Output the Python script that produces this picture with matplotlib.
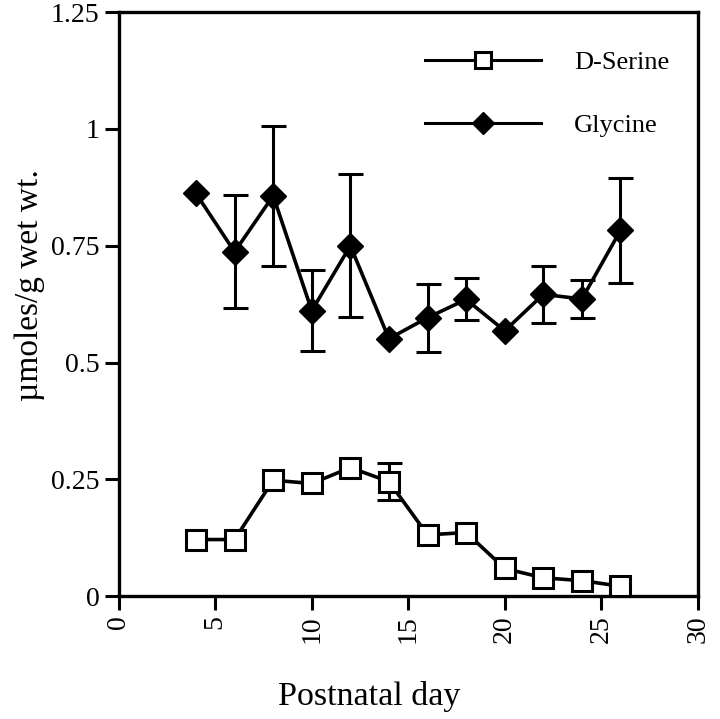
import numpy as np
import matplotlib
matplotlib.use("Agg")
import matplotlib.pyplot as plt

plt.rcParams["font.family"] = ["Liberation Serif", "DejaVu Serif"]

days = [4, 6, 8, 10, 12, 14, 16, 18, 20, 22, 24, 26]

serine = [0.121, 0.121, 0.248, 0.241, 0.275, 0.245, 0.131, 0.136, 0.059, 0.039, 0.033, 0.021]
serine_err = [0, 0, 0, 0, 0, 0.04, 0, 0, 0, 0, 0, 0]

glycine = [0.862, 0.737, 0.857, 0.611, 0.750, 0.551, 0.596, 0.635, 0.568, 0.646, 0.636, 0.783]
glycine_err = [0, 0.121, 0.15, 0.087, 0.153, 0, 0.073, 0.045, 0, 0.061, 0.04, 0.112]

x_ticks = [0, 5, 10, 15, 20, 25, 30]
y_ticks = [0, 0.25, 0.5, 0.75, 1, 1.25]
y_labels = ["0", "0.25", "0.5", "0.75", "1", "1.25"]

fig = plt.figure(figsize=(7.2, 7.19), dpi=100)
ax = fig.add_axes([0.165, 0.171, 0.804, 0.812])

# no bar where the error is zero
ge = np.array(glycine_err)
ge_plot = np.where(ge > 0, ge, np.nan)
se = np.array(serine_err)
se_plot = np.where(se > 0, se, np.nan)

ax.errorbar(days, glycine, yerr=ge_plot, fmt="none", ecolor="black",
            elinewidth=2.2, capsize=9, capthick=2.2, zorder=1)
ax.errorbar(days, serine, yerr=se_plot, fmt="none", ecolor="black",
            elinewidth=2.2, capsize=9, capthick=2.2, zorder=1)

ax.plot(days, serine, color="black", lw=2.6, marker="s", markersize=14,
        markerfacecolor="white", markeredgecolor="black", markeredgewidth=2.2,
        label="D-Serine", zorder=3)
ax.plot(days, glycine, color="black", lw=2.6, marker="D", markersize=13,
        markerfacecolor="black", markeredgecolor="black",
        label="Glycine", zorder=3)

ax.set_xlim(0, 30)
ax.set_ylim(0, 1.25)
ax.set_xticks(x_ticks)
ax.set_xticklabels([str(t) for t in x_ticks], rotation=90, fontsize=20)
ax.set_yticks(y_ticks)
ax.set_yticklabels(y_labels, fontsize=20)
ax.tick_params(direction="out", length=10, width=2.2, pad=4)

for s in ax.spines.values():
    s.set_linewidth(2.4)

ax.set_xlabel("Postnatal day", fontsize=24.5)
ax.set_ylabel("\u00b5moles/g wet wt.", fontsize=24)
ax.xaxis.set_label_coords(0.433, -0.145)
ax.yaxis.set_label_coords(-0.128, 0.533)

leg = ax.legend(loc="upper left", bbox_to_anchor=(0.488, 0.975), frameon=False,
                fontsize=19, handlelength=4.4, handletextpad=1.25,
                labelspacing=1.5)
for h in leg.legend_handles:
    h.set_linewidth(2.2)
leg.legend_handles[0].set_markersize(11)
leg.legend_handles[1].set_markersize(11)

fig.savefig("out.png", dpi=100)
